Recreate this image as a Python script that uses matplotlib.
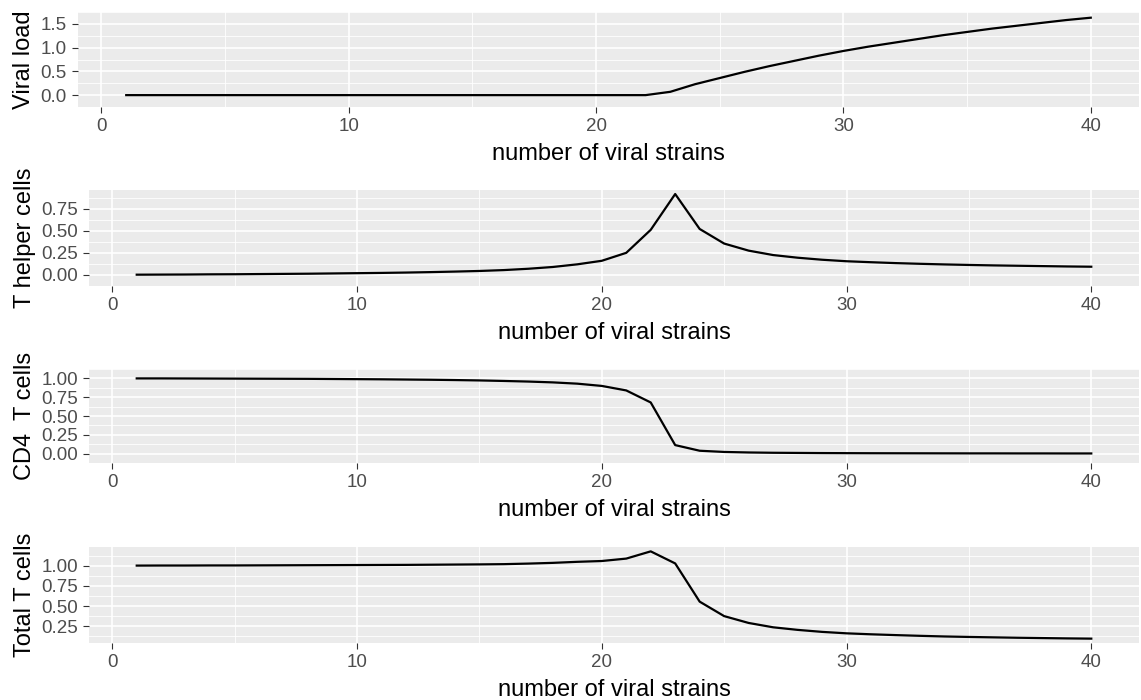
import numpy as np
import matplotlib
matplotlib.use('Agg')
import matplotlib.pyplot as plt

plt.rcParams['font.family'] = ['Liberation Sans', 'DejaVu Sans']

strains = list(range(1, 41))

viral_load = [0.0] * 22 + [0.07, 0.23, 0.36, 0.49, 0.61, 0.72, 0.83, 0.93, 1.02, 1.10,
                           1.18, 1.26, 1.33, 1.40, 1.46, 1.52, 1.58, 1.63]

t_helper = [0.003, 0.004, 0.005, 0.007, 0.008, 0.010, 0.012, 0.014, 0.017, 0.020,
            0.023, 0.027, 0.032, 0.038, 0.045, 0.055, 0.070, 0.090, 0.120, 0.160,
            0.250, 0.510, 0.915, 0.520, 0.355, 0.275, 0.225, 0.195, 0.172, 0.155,
            0.144, 0.134, 0.126, 0.119, 0.113, 0.108, 0.104, 0.100, 0.096, 0.093]

cd4 = [1.000, 1.000, 0.999, 0.998, 0.997, 0.996, 0.995, 0.994, 0.992, 0.990,
       0.988, 0.985, 0.982, 0.978, 0.973, 0.966, 0.958, 0.947, 0.930, 0.900,
       0.840, 0.680, 0.113, 0.038, 0.022, 0.015, 0.011, 0.009, 0.007, 0.006,
       0.005, 0.0045, 0.004, 0.0035, 0.003, 0.003, 0.0025, 0.0025, 0.002, 0.002]

total_t = [1.003, 1.004, 1.004, 1.005, 1.005, 1.006, 1.007, 1.008, 1.009, 1.010,
           1.011, 1.012, 1.014, 1.016, 1.018, 1.021, 1.028, 1.037, 1.050, 1.060,
           1.090, 1.180, 1.030, 0.555, 0.375, 0.290, 0.236, 0.204, 0.179, 0.161,
           0.149, 0.139, 0.130, 0.122, 0.116, 0.111, 0.106, 0.102, 0.098, 0.095]

ylabels = ['Viral load', 'T helper cells', 'CD4  T cells', 'Total T cells']
yticks = [[0.0, 0.5, 1.0, 1.5],
          [0.0, 0.25, 0.5, 0.75],
          [0.0, 0.25, 0.5, 0.75, 1.0],
          [0.25, 0.5, 0.75, 1.0]]
yfmt = ['{:.1f}', '{:.2f}', '{:.2f}', '{:.2f}']
xticks = [0, 10, 20, 30, 40]

# panel boxes in pixels: left, top, bottom
boxes = [(78, 12, 107), (89, 190, 286), (89, 369, 463), (89, 547, 643)]
W, H = 1141, 700

fig = plt.figure(figsize=(W / 100, H / 100), dpi=100)
series = [viral_load, t_helper, cd4, total_t]

for i in range(4):
    left, top, bottom = boxes[i]
    ax = fig.add_axes([left / W, 1 - bottom / H, (1139 - left) / W, (bottom - top) / H])
    ax.set_facecolor('#EBEBEB')
    for s in ax.spines.values():
        s.set_visible(False)

    ax.plot(strains, series[i], color='black', lw=1.6, zorder=3)
    ax.margins(x=0.05, y=0.05)

    major = yticks[i]
    step = major[1] - major[0]
    minor = [major[0] - step / 2] + [m + step / 2 for m in major]
    ax.set_yticks(major)
    ax.set_yticklabels([yfmt[i].format(v) for v in major])
    ax.set_yticks(minor, minor=True)
    ax.set_xticks(xticks)
    ax.set_xticks([5, 15, 25, 35], minor=True)
    ylim = ax.get_ylim()
    xlim = ax.get_xlim()

    ax.grid(which='major', color='white', lw=1.2, zorder=1)
    ax.grid(which='minor', color='white', lw=0.6, zorder=1)
    ax.set_axisbelow(True)
    ax.set_ylim(ylim)
    ax.set_xlim(xlim)

    ax.tick_params(which='major', length=4.5, width=0.8, color='#333333',
                   labelcolor='#4D4D4D', labelsize=13.5, pad=3.5)
    ax.tick_params(which='minor', length=0)

    ax.set_xlabel('number of viral strains', fontsize=17, color='black', labelpad=6)
    ax.set_ylabel(ylabels[i], fontsize=17, color='black', labelpad=4)

fig.savefig('out.png', dpi=100)
